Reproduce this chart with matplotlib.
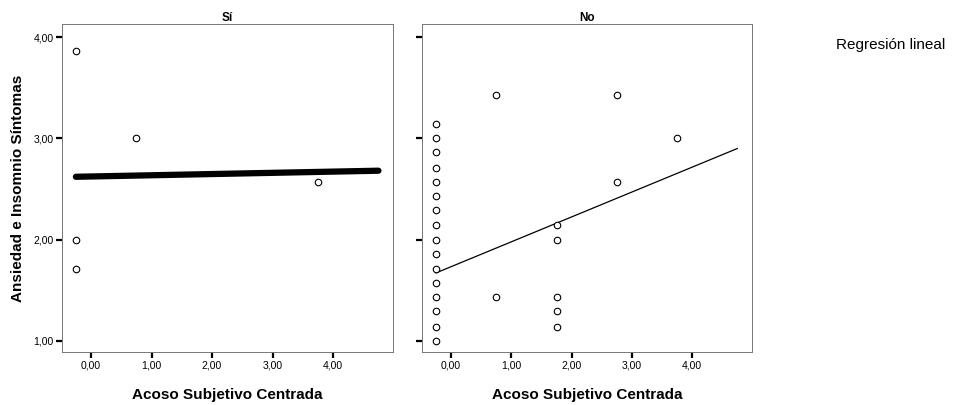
"""Scatter plots with linear regression lines, split by group (Sí / No)."""

import matplotlib

matplotlib.use("Agg")
import matplotlib.pyplot as plt
import numpy as np

plt.rcParams["font.family"] = ["Liberation Sans", "DejaVu Sans"]

# --- data ---
groups = ["Sí", "No"]

si_x = [-0.25, -0.25, -0.25, 0.75, 3.75]
si_y = [3.86, 2.00, 1.71, 3.00, 2.57]
si_fit = [(-0.25, 2.62), (4.75, 2.68)]

no_x = [-0.25] * 16 + [0.75, 0.75] + [1.75] * 5 + [2.75, 2.75, 3.75]
no_y = [3.14, 3.00, 2.86, 2.71, 2.57, 2.43, 2.29, 2.14, 2.00, 1.86, 1.71, 1.57,
        1.43, 1.29, 1.14, 1.00,
        3.43, 1.43,
        2.14, 2.00, 1.43, 1.29, 1.14,
        3.43, 2.57, 3.00]
no_fit = [(-0.25, 1.67), (4.75, 2.90)]

x_ticks = [0, 1, 2, 3, 4]
y_ticks = [1, 2, 3, 4]
x_label = "Acoso Subjetivo Centrada"
y_label = "Ansiedad e Insomnio Síntomas"
legend_text = "Regresión lineal"


def fmt(v):
    return f"{v:.2f}".replace(".", ",")


fig = plt.figure(figsize=(9.55, 4.05), dpi=100, facecolor="white")
ax_si = fig.add_axes([0.0649, 0.131, 0.3466, 0.81])
ax_no = fig.add_axes([0.4419, 0.131, 0.3455, 0.81])

panels = [
    (ax_si, si_x, si_y, si_fit, 4.5),
    (ax_no, no_x, no_y, no_fit, 0.9),
]

for idx, (ax, xs, ys, fit, lw) in enumerate(panels):
    ax.scatter(xs, ys, s=22, facecolors="white", edgecolors="black", linewidths=0.8, zorder=3)
    fx, fy = zip(*fit)
    ax.plot(fx, fy, color="black", lw=lw, solid_capstyle="round", zorder=2)

    ax.set_xlim(-0.48, 4.99)
    ax.set_ylim(0.89, 4.13)
    ax.set_xticks(x_ticks)
    ax.set_xticklabels([fmt(v) for v in x_ticks])
    ax.set_yticks(y_ticks)
    if idx == 0:
        ax.set_yticklabels([fmt(v) for v in y_ticks])
        ax.set_ylabel(y_label, fontsize=11, fontweight="bold", labelpad=6)
    else:
        ax.set_yticklabels([])
    ax.tick_params(direction="out", length=4, width=1.6, color="black", labelsize=7.5, pad=2)
    for sp in ax.spines.values():
        sp.set_color("#777777")
        sp.set_linewidth(0.7)
        sp.set_linestyle((0, (3, 1)))
    ax.set_title(groups[idx], fontsize=8.5, fontweight="bold", pad=2)
    ax.set_xlabel(x_label, fontsize=11, fontweight="bold", labelpad=13)

fig.text(0.875, 0.888, legend_text, fontsize=11, ha="left", va="center")

fig.savefig("out.png", dpi=100, facecolor=fig.get_facecolor())
plt.close(fig)
